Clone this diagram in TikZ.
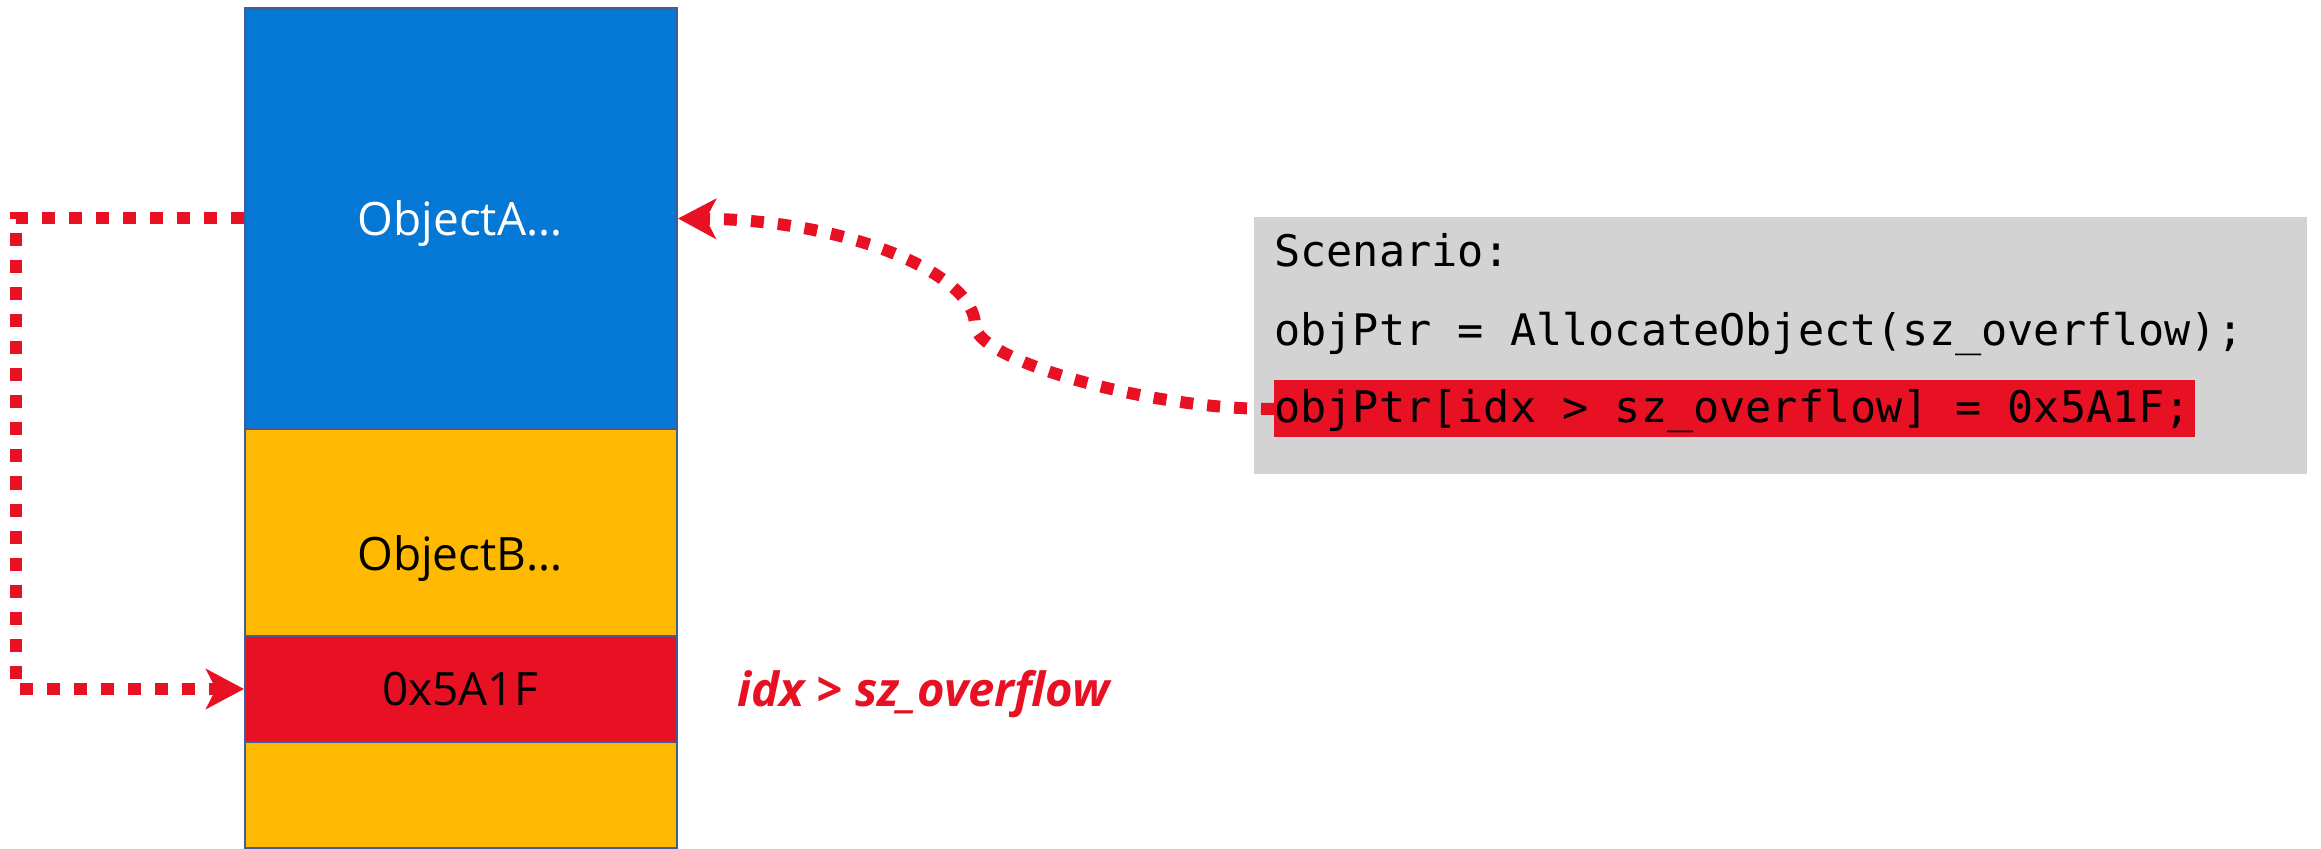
\documentclass[tikz,border=0pt]{standalone}
\usepackage{fontspec}
\setmainfont{Open Sans}
\setmonofont{DejaVu Sans Mono}
\usetikzlibrary{arrows.meta}

\definecolor{objblue}{HTML}{0478D4}
\definecolor{objyellow}{HTML}{FFB900}
\definecolor{hotred}{HTML}{E81123}
\definecolor{panelgray}{HTML}{D3D3D3}
\definecolor{cellline}{HTML}{3F5E95}

\begin{document}
\begin{tikzpicture}[x=0.5pt,y=-0.5pt,
  cell/.style={draw=cellline, line width=1pt, inner sep=0pt,
    minimum width=216pt, anchor=north west},
  celltext/.style={font=\fontsize{23}{28}\selectfont, inner sep=0pt},
  codeline/.style={font=\ttfamily\fontsize{21.75}{26}\selectfont,
    anchor=base west, inner sep=0pt},
  conn/.style={draw=hotred, line width=6pt, dash pattern=on 6.5pt off 7pt,
    -{Stealth[length=19pt,width=20pt,inset=5pt]}}
]
% canvas
\path[use as bounding box, fill=white] (0,0) rectangle (2321,849);

% memory cells
\node[cell, fill=objblue,   minimum height=210.5pt] (objA) at (244,7) {};
\node[cell, fill=objyellow, minimum height=103.5pt] (objB) at (244,428) {};
\node[cell, fill=objyellow, minimum height=53pt]    (tail) at (244,741) {};
\node[cell, fill=hotred,    minimum height=53pt]    (val)  at (244,635) {};

\node[celltext, text=white] (labA) at (460,224) {ObjectA…};
\node[celltext] (labB) at (460,559) {ObjectB…};
\node[celltext] (labV) at (460,689) {0x5A1F};

% overflow condition
\node[anchor=base west, inner sep=0pt, text=hotred,
  font=\bfseries\itshape\fontsize{23.6}{28}\selectfont] (cond) at (737,706)
  {idx > sz\_overflow};

% code panel
\node[fill=panelgray, inner sep=0pt, minimum width=526.5pt,
  minimum height=128.5pt, anchor=north west] (panel) at (1254,217) {};
\node[fill=hotred, inner sep=0pt, minimum width=460.5pt,
  minimum height=28.5pt, anchor=north west] (hl) at (1274,380) {};
\node[codeline] (c1) at (1274,267) {Scenario:};
\node[codeline] (c2) at (1274,346) {objPtr = AllocateObject(sz\_overflow);};
\node[codeline] (c3) at (1274,423) {objPtr[idx > sz\_overflow] = 0x5A1F;};

% connectors
\coordinate (bend) at (975,325);
\draw[conn] (hl.west) .. controls (1150,410) and (975,360) .. (bend)
  .. controls (975,275) and (850,220) .. (objA.east);
\draw[conn] (objA.west) -- ++(-228,0) |- (val.west);
\end{tikzpicture}
\end{document}
